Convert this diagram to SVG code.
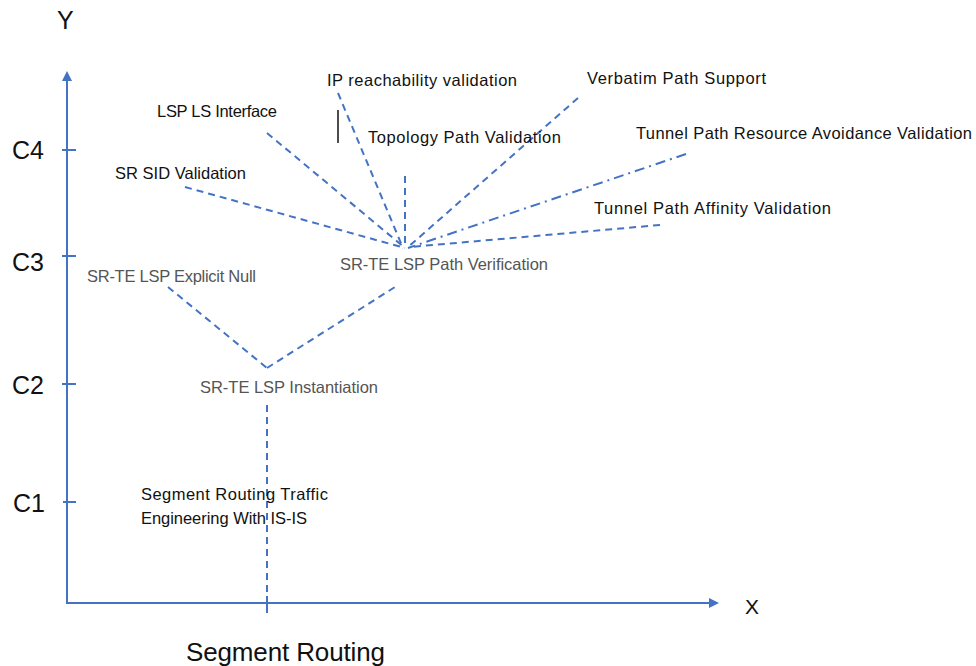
<svg xmlns="http://www.w3.org/2000/svg" width="976" height="666" viewBox="0 0 976 666">
  <style>
    .axis { stroke: #4472C4; stroke-width: 2; fill: none; }
    .dash { stroke: #4472C4; stroke-width: 2; fill: none; stroke-dasharray: 7 5; }
    .dashdot { stroke: #4472C4; stroke-width: 2; fill: none; stroke-dasharray: 10 5 2 5; }
    text { font-family: "Liberation Sans", Arial, sans-serif; }
    .lbl { font-size: 16.5px; fill: #111; }
    .grey { font-size: 16.5px; fill: #555; }
    .axl { font-size: 25px; fill: #111; }
  </style>
  <defs>
    <marker id="tri" markerWidth="10" markerHeight="10" refX="8" refY="5" orient="auto" markerUnits="userSpaceOnUse">
      <path d="M0,0 L10,5 L0,10 Z" fill="#4472C4"/>
    </marker>
  </defs>

  <rect width="976" height="666" fill="#fff"/>

  <!-- axes -->
  <g id="axes">
    <line class="axis" x1="67" y1="604" x2="67" y2="73" marker-end="url(#tri)"/>
    <line class="axis" x1="67" y1="603" x2="717" y2="603" marker-end="url(#tri)"/>
    <line class="axis" x1="62" y1="150" x2="76" y2="150"/>
    <line class="axis" x1="62" y1="256" x2="76" y2="256"/>
    <line class="axis" x1="62" y1="384" x2="76" y2="384"/>
    <line class="axis" x1="63" y1="502" x2="76" y2="502"/>
    <line class="axis" x1="267" y1="596" x2="267" y2="613"/>
    <text class="axl" x="57" y="29">Y</text>
    <text class="axl" x="745" y="614" style="font-size:21px">X</text>
    <text class="axl" x="12" y="159">C4</text>
    <text class="axl" x="12" y="271">C3</text>
    <text class="axl" x="12" y="394">C2</text>
    <text class="axl" x="13" y="512">C1</text>
    <text class="axl" x="186" y="661" style="font-size:26px" textLength="199">Segment Routing</text>
  </g>

  <!-- connectors -->
  <g id="connectors">
    <line class="dash" x1="185" y1="187" x2="405" y2="248"/>
    <line class="dash" x1="267" y1="133" x2="405" y2="248"/>
    <line class="dash" x1="338" y1="93" x2="403" y2="248"/>
    <line class="dash" x1="405" y1="176" x2="405" y2="248"/>
    <line class="dash" x1="578" y1="98" x2="407" y2="248"/>
    <line class="dashdot" x1="686" y1="154" x2="408" y2="248"/>
    <line class="dash" x1="660" y1="225" x2="410" y2="247"/>
    <line class="dash" x1="168" y1="287" x2="267" y2="368"/>
    <line class="dash" x1="267" y1="368" x2="395" y2="287"/>
    <line class="dash" x1="267" y1="405" x2="267" y2="600"/>
    <line x1="338" y1="110" x2="338" y2="143" stroke="#111" stroke-width="1.5"/>
  </g>

  <!-- nodes -->
  <g id="node-srte">
    <text class="lbl" x="141" y="500" textLength="187">Segment Routing Traffic</text>
    <text class="lbl" x="141" y="524" textLength="166">Engineering With IS-IS</text>
  </g>
  <g id="node-instantiation">
    <text class="grey" x="200" y="393" textLength="178">SR-TE LSP Instantiation</text>
  </g>
  <g id="node-explicit-null">
    <text class="grey" x="87" y="282" textLength="169">SR-TE LSP Explicit Null</text>
  </g>
  <g id="node-path-verification">
    <text class="grey" x="340" y="270" textLength="208">SR-TE LSP Path Verification</text>
  </g>
  <g id="node-sr-sid">
    <text class="lbl" x="115" y="179" textLength="131">SR SID Validation</text>
  </g>
  <g id="node-lsp-ls">
    <text class="lbl" x="157" y="117" textLength="120">LSP LS Interface</text>
  </g>
  <g id="node-ip-reach">
    <text class="lbl" x="327" y="86" textLength="190">IP reachability validation</text>
  </g>
  <g id="node-topology">
    <text class="lbl" x="368" y="143" textLength="193">Topology Path Validation</text>
  </g>
  <g id="node-verbatim">
    <text class="lbl" x="587" y="84" textLength="179">Verbatim Path Support</text>
  </g>
  <g id="node-resource-avoidance">
    <text class="lbl" x="636" y="139" textLength="336">Tunnel Path Resource Avoidance Validation</text>
  </g>
  <g id="node-affinity">
    <text class="lbl" x="594" y="214" textLength="237">Tunnel Path Affinity Validation</text>
  </g>
</svg>
